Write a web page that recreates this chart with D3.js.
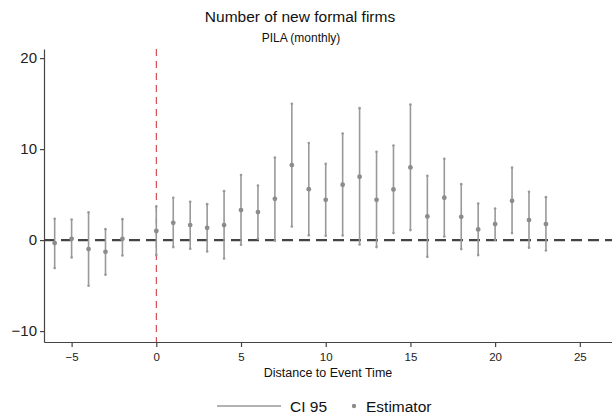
<!DOCTYPE html>
<html>
<head>
<meta charset="utf-8">
<script src="https://cdn.jsdelivr.net/npm/d3@7"></script>
<style>
  body { margin: 0; background: #fff; }
  svg { font-family: "Liberation Sans", Arial, sans-serif; }
  .axis path, .axis line { stroke: #444; stroke-width: 1.2; }
  .axis text { fill: #222; }
</style>
</head>
<body>
<svg id="chart"></svg>
<script>
// Dimensions
const width = 612;
const height = 413;
const margin = { top: 49, right: 0, bottom: 71, left: 44 };

// Data (event time -1 is the omitted period)
const eventTime = [-6, -5, -4, -3, -2, 0, 1, 2, 3, 4, 5, 6, 7, 8, 9, 10, 11, 12, 13, 14, 15, 16, 17, 18, 19, 20, 21, 22, 23];
const estimate = [-0.33, 0.14, -0.99, -1.29, 0.14, 1.0, 1.9, 1.65, 1.35, 1.65, 3.3, 3.08, 4.54, 8.24, 5.6, 4.43, 6.08, 6.96, 4.43, 5.56, 7.98, 2.6, 4.65, 2.56, 1.17, 1.76, 4.32, 2.2, 1.76];
const ciLow = [-3.08, -1.9, -5.02, -3.81, -1.69, -1.64, -0.77, -0.96, -1.25, -2.02, -0.52, 0.14, -0.04, 1.5, 0.52, 0.47, 0.5, -0.48, -0.77, 0.77, 1.1, -1.84, 0.4, -0.99, -1.65, 0.03, 0.77, -0.85, -1.14];
const ciHigh = [2.34, 2.27, 3.04, 1.2, 2.3, 3.68, 4.65, 4.21, 3.95, 5.38, 7.14, 6.0, 9.08, 14.98, 10.66, 8.38, 11.71, 14.5, 9.7, 10.4, 14.9, 7.07, 8.93, 6.15, 4.02, 3.47, 7.96, 5.3, 4.72];
const xTicks = [-5, 0, 5, 10, 15, 20, 25];
const yTicks = [-10, 0, 10, 20];

const data = eventTime.map((t, i) => ({ t, est: estimate[i], lo: ciLow[i], hi: ciHigh[i] }));

const svg = d3.select("#chart")
  .attr("width", width)
  .attr("height", height);

// Scales
const xScale = d3.scaleLinear()
  .domain([-6.63, 26.9])
  .range([margin.left, width - margin.right]);

const yScale = d3.scaleLinear()
  .domain([-11.2, 21.0])
  .range([height - margin.bottom, margin.top]);

// Titles
svg.append("text")
  .attr("x", 300).attr("y", 22)
  .attr("text-anchor", "middle")
  .attr("font-size", 15.5)
  .attr("fill", "#111")
  .text("Number of new formal firms");

svg.append("text")
  .attr("x", 301).attr("y", 42)
  .attr("text-anchor", "middle")
  .attr("font-size", 12)
  .attr("fill", "#111")
  .text("PILA (monthly)");

// Zero reference line (dashed, dark)
svg.append("line")
  .attr("x1", xScale.range()[0]).attr("x2", xScale.range()[1])
  .attr("y1", yScale(0)).attr("y2", yScale(0))
  .attr("stroke", "#444")
  .attr("stroke-width", 2.4)
  .attr("stroke-dasharray", "11,6");

// Event line at t = 0 (red dashed)
svg.append("line")
  .attr("x1", xScale(0)).attr("x2", xScale(0))
  .attr("y1", yScale.range()[1]).attr("y2", yScale.range()[0])
  .attr("stroke", "#cc2a35")
  .attr("stroke-width", 1)
  .attr("stroke-dasharray", "7,5");

// Confidence intervals
const ci = svg.append("g").attr("class", "ci");

ci.selectAll("line")
  .data(data)
  .enter()
  .append("line")
  .attr("x1", d => xScale(d.t)).attr("x2", d => xScale(d.t))
  .attr("y1", d => yScale(d.lo)).attr("y2", d => yScale(d.hi))
  .attr("stroke", "#999")
  .attr("stroke-width", 1.6);

// small end caps
ci.selectAll("circle")
  .data(data.flatMap(d => [{ t: d.t, v: d.lo }, { t: d.t, v: d.hi }]))
  .enter()
  .append("circle")
  .attr("cx", d => xScale(d.t))
  .attr("cy", d => yScale(d.v))
  .attr("r", 1.3)
  .attr("fill", "#999");

// Point estimates
svg.selectAll(".est")
  .data(data)
  .enter()
  .append("circle")
  .attr("class", "est")
  .attr("cx", d => xScale(d.t))
  .attr("cy", d => yScale(d.est))
  .attr("r", 2.4)
  .attr("fill", "#8c8c8c");

// Axes
const yAxis = d3.axisLeft(yScale)
  .tickValues(yTicks)
  .tickSize(4)
  .tickSizeOuter(0)
  .tickPadding(3);

svg.append("g")
  .attr("class", "axis")
  .attr("transform", `translate(${margin.left},0)`)
  .call(yAxis)
  .selectAll("text")
  .attr("font-size", 15)
  .attr("font-family", "Liberation Sans, Arial, sans-serif");

const xAxis = d3.axisBottom(xScale)
  .tickValues(xTicks)
  .tickSize(5)
  .tickSizeOuter(0)
  .tickPadding(6);

svg.append("g")
  .attr("class", "axis")
  .attr("transform", `translate(0,${height - margin.bottom})`)
  .call(xAxis)
  .selectAll("text")
  .attr("font-size", 11.5)
  .attr("font-family", "Liberation Sans, Arial, sans-serif");

// Axis title
svg.append("text")
  .attr("x", (xScale.range()[0] + xScale.range()[1]) / 2)
  .attr("y", 377)
  .attr("text-anchor", "middle")
  .attr("font-size", 12.5)
  .attr("fill", "#111")
  .text("Distance to Event Time");

// Legend
const legend = svg.append("g").attr("class", "legend");

legend.append("line")
  .attr("x1", 217).attr("x2", 281)
  .attr("y1", 406).attr("y2", 406)
  .attr("stroke", "#999")
  .attr("stroke-width", 1.6);

legend.append("text")
  .attr("x", 290).attr("y", 411.5)
  .attr("font-size", 15.5)
  .attr("fill", "#111")
  .text("CI 95");

legend.append("circle")
  .attr("cx", 354).attr("cy", 406)
  .attr("r", 2.2)
  .attr("fill", "#8c8c8c");

legend.append("text")
  .attr("x", 366).attr("y", 411.5)
  .attr("font-size", 15.5)
  .attr("fill", "#111")
  .text("Estimator");
</script>
</body>
</html>
